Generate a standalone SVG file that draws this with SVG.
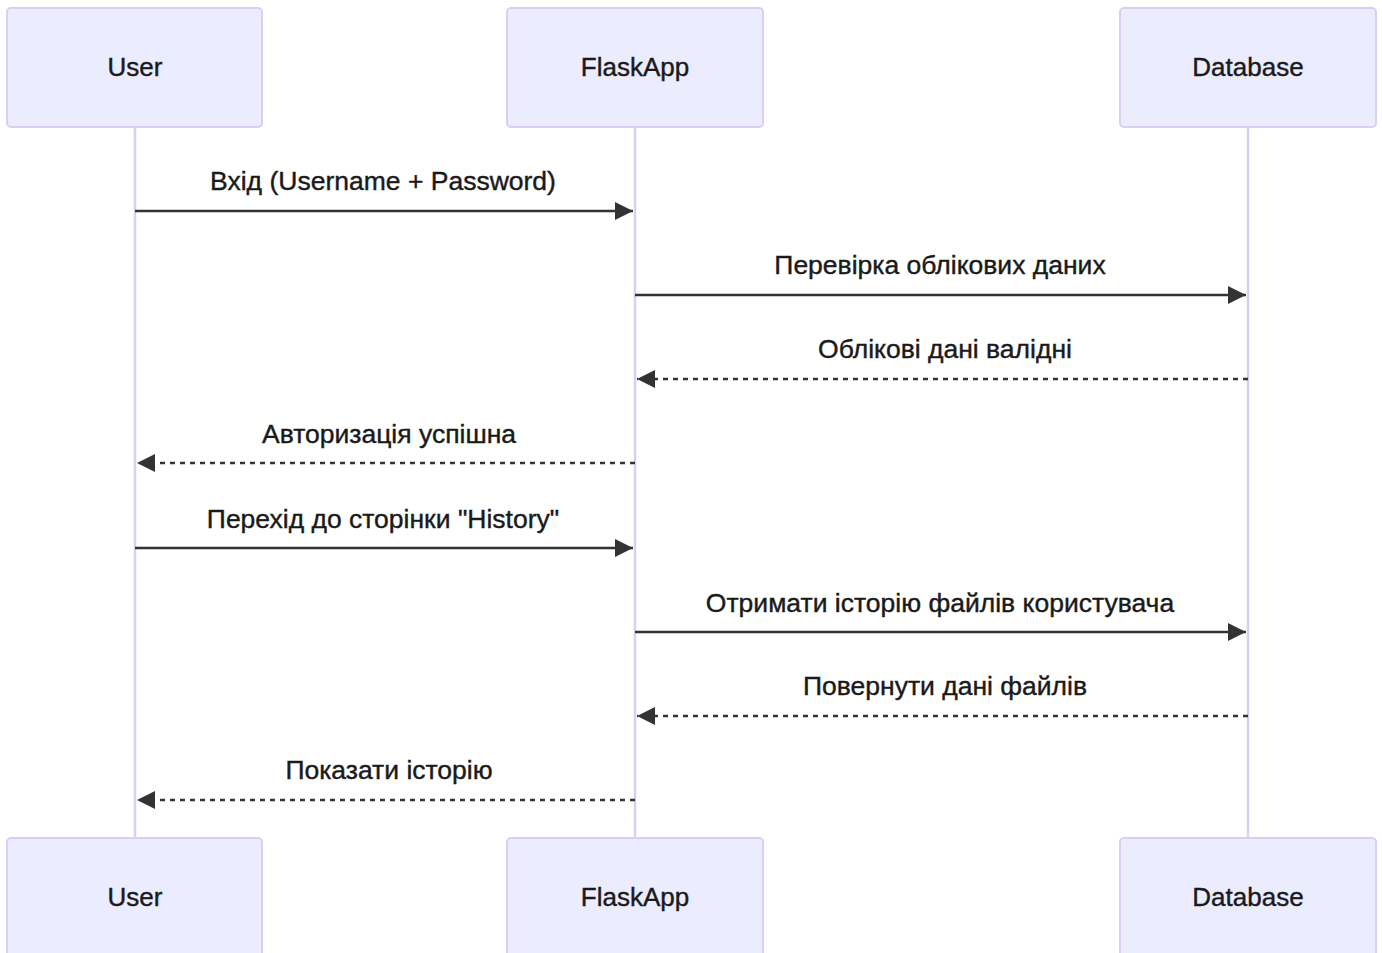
<svg xmlns="http://www.w3.org/2000/svg" width="1382" height="953" viewBox="0 0 1382 953">
<defs>
<style>
.actor{fill:#ECECFF;stroke:#DACEF3;stroke-width:2}
.alabel{font-family:"Liberation Sans",Arial,sans-serif;font-size:26px;fill:#1a1a1a;stroke:#1a1a1a;stroke-width:0.4;text-anchor:middle;dominant-baseline:central}
.life{stroke:#DACEF3;stroke-width:2.5;fill:none}
.msg{stroke:#333;stroke-width:2.5;fill:none}
.dash{stroke-dasharray:5,5}
.mlabel{font-family:"Liberation Sans",Arial,sans-serif;font-size:26.5px;fill:#1a1a1a;stroke:#1a1a1a;stroke-width:0.4;text-anchor:middle;dominant-baseline:central}
</style>
<marker id="ah" markerWidth="18" markerHeight="18" viewBox="0 0 18 18" refX="18" refY="9" orient="auto" markerUnits="userSpaceOnUse">
<path d="M0,0 L18,9 L0,18 Z" fill="#333"/>
</marker>
</defs>
<rect width="1382" height="953" fill="#fff"/>
<g id="lifelines">
<line class="life" x1="135" y1="127" x2="135" y2="838"/>
<line class="life" x1="635" y1="127" x2="635" y2="838"/>
<line class="life" x1="1248" y1="127" x2="1248" y2="838"/>
</g>
<g id="actor-user-top"><rect class="actor" x="7" y="8" width="255" height="119" rx="4"/><text class="alabel" x="135" y="67">User</text></g>
<g id="actor-flask-top"><rect class="actor" x="507" y="8" width="256" height="119" rx="4"/><text class="alabel" x="635" y="67">FlaskApp</text></g>
<g id="actor-db-top"><rect class="actor" x="1120" y="8" width="256" height="119" rx="4"/><text class="alabel" x="1248" y="67">Database</text></g>
<g id="actor-user-bottom"><rect class="actor" x="7" y="838" width="255" height="125" rx="4"/><text class="alabel" x="135" y="897">User</text></g>
<g id="actor-flask-bottom"><rect class="actor" x="507" y="838" width="256" height="125" rx="4"/><text class="alabel" x="635" y="897">FlaskApp</text></g>
<g id="actor-db-bottom"><rect class="actor" x="1120" y="838" width="256" height="125" rx="4"/><text class="alabel" x="1248" y="897">Database</text></g>
<g id="connectors">
<line class="msg" x1="135" y1="211" x2="633" y2="211" marker-end="url(#ah)"/>
<line class="msg" x1="635" y1="295" x2="1246" y2="295" marker-end="url(#ah)"/>
<line class="msg dash" x1="1248" y1="379" x2="637" y2="379" marker-end="url(#ah)"/>
<line class="msg dash" x1="635" y1="463" x2="137" y2="463" marker-end="url(#ah)"/>
<line class="msg" x1="135" y1="548" x2="633" y2="548" marker-end="url(#ah)"/>
<line class="msg" x1="635" y1="632" x2="1246" y2="632" marker-end="url(#ah)"/>
<line class="msg dash" x1="1248" y1="716" x2="637" y2="716" marker-end="url(#ah)"/>
<line class="msg dash" x1="635" y1="800" x2="137" y2="800" marker-end="url(#ah)"/>
</g>
<g id="labels">
<text class="mlabel" x="383" y="181">Вхід (Username + Password)</text>
<text class="mlabel" x="940" y="265">Перевірка облікових даних</text>
<text class="mlabel" x="945" y="349">Облікові дані валідні</text>
<text class="mlabel" x="389" y="434">Авторизація успішна</text>
<text class="mlabel" x="383" y="519">Перехід до сторінки "History"</text>
<text class="mlabel" x="940" y="603">Отримати історію файлів користувача</text>
<text class="mlabel" x="945" y="686">Повернути дані файлів</text>
<text class="mlabel" x="389" y="770">Показати історію</text>
</g>
</svg>
